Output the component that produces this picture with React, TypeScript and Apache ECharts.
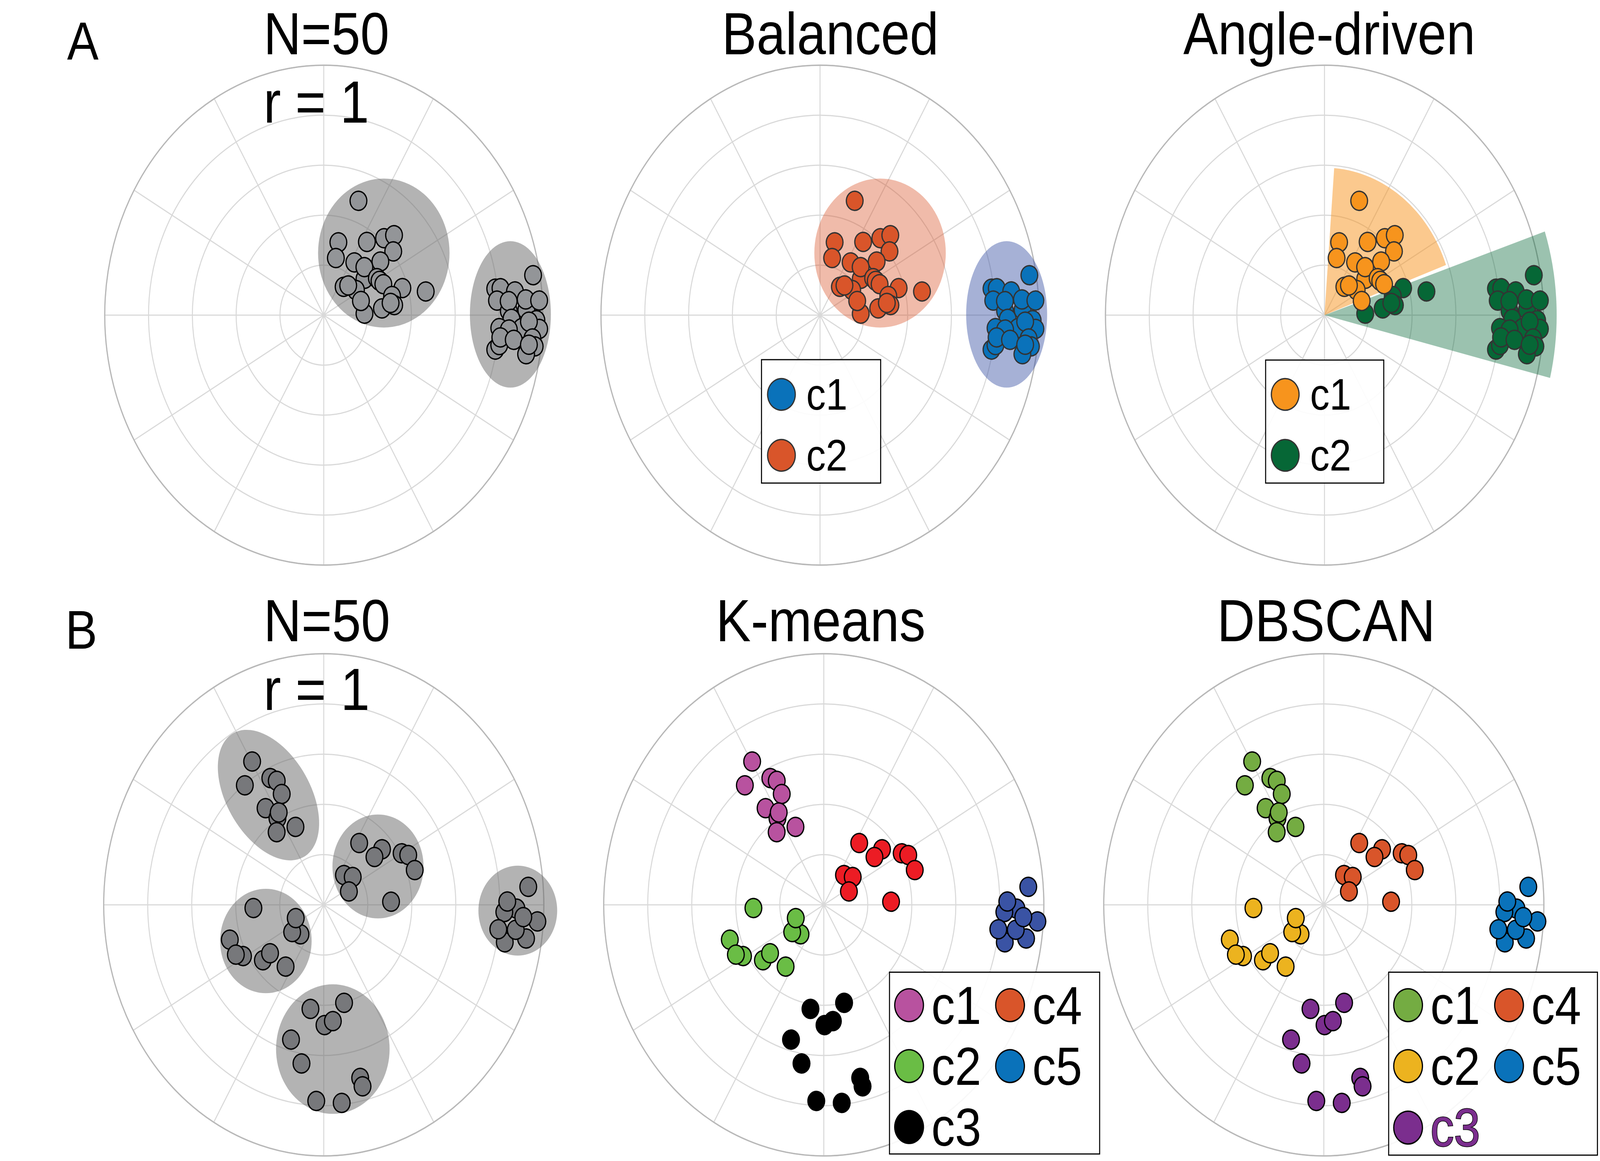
import React, { useEffect, useRef } from 'react';
import * as echarts from 'echarts';

const FONT = '"Liberation Sans", Arial, Helvetica, sans-serif';
const FIG_W = 4675;
const FIG_H = 2973;

// ---------------- DATA (polar: [radius, angle in degrees]) ----------------
// Row A (N=50, r=1): inner cluster (Balanced c2) and outer cluster (Balanced c1)
const aInnerPoints: [number, number][] = [
  [0.484, 70.9], [0.299, 77.1], [0.235, 76.4], [0.353, 56.1], [0.413, 48.2],
  [0.453, 44.9], [0.407, 38.8], [0.236, 38.0], [0.253, 56.5], [0.336, 39.7],
  [0.267, 46.0], [0.145, 51.3], [0.178, 34.3], [0.163, 46.8], [0.284, 31.4],
  [0.289, 28.3], [0.299, 24.5], [0.375, 16.8], [0.475, 11.5], [0.186, 1.8],
  [0.179, 18.5], [0.267, 5.8], [0.321, 13.8], [0.324, 7.1], [0.309, 9.1],
];
// Angle-driven cluster of each inner point (1 = c1, 2 = c2)
const aInnerAngleGroup: number[] = [
  1, 1, 1, 1, 1, 1, 1, 1, 1, 1, 1, 1, 1, 1, 1, 1, 1, 2, 2, 2, 1, 2, 2, 2, 2,
];
const aOuterPoints: [number, number][] = [
  [0.790, 7.7], [0.814, 7.6], [0.793, 4.2], [0.878, 6.2], [0.845, 1.1],
  [0.846, 3.8], [0.857, 359.0], [0.925, 1.3], [0.924, 3.9], [0.971, 358.8],
  [0.985, 3.4], [0.969, 9.5], [0.803, 356.3], [0.905, 356.7], [0.847, 356.1],
  [0.985, 356.8], [0.937, 358.4], [0.957, 354.4], [0.971, 352.6], [0.795, 350.0],
  [0.810, 351.5], [0.811, 353.7], [0.873, 353.5], [0.937, 350.4], [0.944, 352.8],
];

// Row B (N=50, r=1): five groups (K-means / DBSCAN labels c1..c5)
const bGroupC1: [number, number][] = [
  [0.657, 119.7], [0.596, 127.0], [0.560, 115.7], [0.538, 113.4], [0.481, 113.4],
  [0.467, 124.5], [0.404, 121.4], [0.421, 119.1], [0.360, 126.5], [0.336, 112.5],
];
const bGroupC2: [number, number][] = [
  [0.320, 182.3], [0.158, 228.0], [0.180, 217.1], [0.138, 202.6], [0.449, 198.0],
  [0.420, 209.1], [0.446, 206.4], [0.354, 218.6], [0.311, 218.3], [0.301, 234.8],
];
const bGroupC3: [number, number][] = [
  [0.419, 261.7], [0.401, 283.3], [0.479, 270.4], [0.465, 275.1], [0.557, 254.5],
  [0.640, 260.9], [0.709, 283.5], [0.744, 283.7], [0.782, 267.5], [0.793, 275.9],
];
const bGroupC4: [number, number][] = [
  [0.294, 56.8], [0.345, 39.9], [0.299, 39.6], [0.409, 30.1], [0.432, 27.3],
  [0.436, 18.5], [0.150, 52.3], [0.172, 40.1], [0.126, 25.0], [0.306, 2.3],
];
const bGroupC5: [number, number][] = [
  [0.932, 4.4], [0.876, 359.0], [0.821, 358.0], [0.834, 0.9], [0.836, 349.7],
  [0.929, 351.7], [0.973, 356.1], [0.799, 353.0], [0.878, 353.5], [0.908, 356.9],
];

// Shaded regions: [centre radius, centre angle, semi-axis x, semi-axis y, tilt deg]
const aRegions: number[][] = [
  [0.370, 42.2, 0.300, 0.298, 0],
  [0.852, 0.2, 0.185, 0.293, 0],
];
const bRegions: number[][] = [
  [0.504, 119.9, 0.295, 0.183, -52.9],
  [0.290, 31.8, 0.207, 0.207, 0],
  [0.300, 208.7, 0.208, 0.208, 0],
  [0.576, 274.1, 0.258, 0.258, 0],
  [0.882, 358.5, 0.179, 0.179, 0],
];
// Angle-driven sectors: [outer radius, start angle, end angle]
const angleSectors: number[][] = [
  [0.59, 19.9, 85.7],
  [1.06, 346.3, 18.4],
];

const panelTitles = ['Balanced', 'Angle-driven', 'K-means', 'DBSCAN'];
const legendNamesA = ['c1', 'c2'];
const legendNamesB1 = ['c1', 'c2', 'c3'];
const legendNamesB2 = ['c4', 'c5'];

// ---------------- STYLE / LAYOUT ----------------
const CENTERS: [number, number][] = [
  [946, 807], [2396, 807], [3870, 807],
  [946, 2317], [2407, 2317], [3868, 2317],
];
const RADII = [640, 640, 640, 643, 643, 643];

const GRAY_FILL = 'rgba(100,100,100,0.49)';
const SYM = 49;
const BW = 3.5;

function regionSeries(polarIndex: number, regions: number[][], fills: string[]) {
  return {
    type: 'custom', coordinateSystem: 'polar', polarIndex, silent: true, clip: false, z: 2,
    data: regions,
    renderItem: (params: any, api: any) => {
      const c = api.coord([api.value(0), api.value(1)]);
      const o = api.coord([0, 0]);
      const e = api.coord([1, 0]);
      const R = Math.hypot(e[0] - o[0], e[1] - o[1]);
      const rx = api.value(2) * R;
      const ry = api.value(3) * R;
      return {
        type: 'circle', x: c[0], y: c[1],
        rotation: (api.value(4) * Math.PI) / 180,
        scaleX: rx / ry, scaleY: 1,
        shape: { cx: 0, cy: 0, r: ry },
        style: { fill: fills[params.dataIndex % fills.length], stroke: null },
      };
    },
  };
}

function sectorSeries(polarIndex: number, sectors: number[][], fills: string[]) {
  return {
    type: 'custom', coordinateSystem: 'polar', polarIndex, silent: true, clip: false, z: 2,
    data: sectors,
    renderItem: (params: any, api: any) => {
      const o = api.coord([0, 0]);
      const e = api.coord([1, 0]);
      const R = Math.hypot(e[0] - o[0], e[1] - o[1]);
      const p1 = api.coord([1, api.value(1)]);
      const p2 = api.coord([1, api.value(2)]);
      const a1 = Math.atan2(p1[1] - o[1], p1[0] - o[0]);
      const a2 = Math.atan2(p2[1] - o[1], p2[0] - o[0]);
      return {
        type: 'sector',
        shape: { cx: o[0], cy: o[1], r0: 0, r: api.value(0) * R, startAngle: a2, endAngle: a1, clockwise: true },
        style: { fill: fills[params.dataIndex % fills.length], stroke: null },
      };
    },
  };
}

function scatter(polarIndex: number, name: string, data: [number, number][], color: string, border: string) {
  return {
    type: 'scatter', name, coordinateSystem: 'polar', polarIndex, silent: true, clip: false, z: 3,
    symbol: 'circle', symbolSize: SYM,
    itemStyle: { color, borderColor: border, borderWidth: BW, opacity: 1 },
    data,
  };
}

function legendItem(name: string, color: string, border: string, extraText?: any) {
  const item: any = { name, icon: 'circle', itemStyle: { color, borderColor: border, borderWidth: 3.5 } };
  if (extraText) item.textStyle = extraText;
  return item;
}

function buildOption(): any {
  const polar = CENTERS.map((c, i) => ({ center: c, radius: RADII[i] }));
  const angleAxis = CENTERS.map((_, i) => ({
    polarIndex: i, type: 'value', min: 0, max: 360, interval: 30, startAngle: 0, clockwise: false, z: 1,
    axisLine: { show: true, lineStyle: { color: '#b8b8b8', width: 3.5 } },
    axisTick: { show: false }, axisLabel: { show: false },
    splitLine: { show: true, lineStyle: { color: '#d9d9d9', width: 3 } },
  }));
  const radiusAxis = CENTERS.map((_, i) => ({
    polarIndex: i, type: 'value', min: 0, max: 1, interval: 0.2, z: 0,
    axisLine: { show: false }, axisTick: { show: false }, axisLabel: { show: false },
    splitLine: { show: true, lineStyle: { color: '#d9d9d9', width: 3 } },
  }));

  const innerC1 = aInnerPoints.filter((_, k) => aInnerAngleGroup[k] === 1);
  const innerC2 = aInnerPoints.filter((_, k) => aInnerAngleGroup[k] === 2);
  const allB = [...bGroupC1, ...bGroupC4, ...bGroupC2, ...bGroupC3, ...bGroupC5];

  const kColors: any = { c1: '#B8529F', c2: '#6ABD45', c3: '#000000', c4: '#EC1C24', c5: '#3A53A4' };
  const dColors: any = { c1: '#74AC42', c2: '#ECB31F', c3: '#7B2E8E', c4: '#D9552A', c5: '#0A72BA' };

  const series: any[] = [
    regionSeries(0, aRegions, [GRAY_FILL, GRAY_FILL]),
    scatter(0, 'A points', [...aInnerPoints, ...aOuterPoints], '#939598', '#000'),
    regionSeries(1, aRegions, ['rgba(217,85,42,0.40)', 'rgba(58,83,164,0.45)']),
    scatter(1, 'c2', aInnerPoints, '#D9552A', '#333'),
    scatter(1, 'c1', aOuterPoints, '#0A72BA', '#333'),
    sectorSeries(2, angleSectors, ['rgba(247,148,29,0.50)', 'rgba(6,103,54,0.40)']),
    scatter(2, 'c2', [...aOuterPoints, ...innerC2], '#066736', '#333'),
    scatter(2, 'c1', innerC1, '#F7941D', '#333'),
    regionSeries(3, bRegions, [GRAY_FILL]),
    scatter(3, 'B points', allB, '#77787B', '#000'),
    scatter(4, 'c1', bGroupC1, kColors.c1, '#000'),
    scatter(4, 'c2', bGroupC2, kColors.c2, '#000'),
    scatter(4, 'c3', bGroupC3, kColors.c3, '#000'),
    scatter(4, 'c4', bGroupC4, kColors.c4, '#000'),
    scatter(4, 'c5', bGroupC5, kColors.c5, '#000'),
    scatter(5, 'c1', bGroupC1, dColors.c1, '#000'),
    scatter(5, 'c2', bGroupC2, dColors.c2, '#000'),
    scatter(5, 'c3', bGroupC3, dColors.c3, '#000'),
    scatter(5, 'c4', bGroupC4, dColors.c4, '#000'),
    scatter(5, 'c5', bGroupC5, dColors.c5, '#000'),
  ];

  const legA = (left: number, top: number, padding: number[], cols: string[]) => ({
    orient: 'vertical', left, top, height: 800, padding,
    itemWidth: 135, itemHeight: 81, itemGap: 42,
    selectedMode: false,
    borderColor: '#000', borderWidth: 3, borderRadius: 0,
    backgroundColor: 'rgba(255,255,255,0.9)',
    textStyle: { fontSize: 114, fontFamily: FONT, color: '#000' },
    data: legendNamesA.map((n, k) => legendItem(n, cols[k], '#333')),
    z: 6,
  });

  const B_FONT = 138;
  const legB = (left: number, top: number, padding: number[], names: string[], cols: any, boxed: boolean, extra?: any) => ({
    orient: 'vertical', left, top, height: 800, padding,
    itemWidth: 120, itemHeight: 84, itemGap: 18,
    selectedMode: false,
    borderColor: boxed ? '#000' : 'transparent',
    borderWidth: boxed ? 3 : 0, borderRadius: 0,
    backgroundColor: boxed ? 'rgba(255,255,255,0.9)' : 'transparent',
    textStyle: { fontSize: B_FONT, fontFamily: FONT, color: '#000' },
    data: names.map((n) => legendItem(n, cols[n], '#000', extra && extra[n])),
    z: boxed ? 6 : 7,
  });

  const kLegendCols = { c1: '#B8529F', c2: '#6ABD45', c3: '#000000', c4: '#D9552A', c5: '#0A72BA' };
  const c3Text = { c3: { color: '#7B2E8E', textBorderColor: '#000', textBorderWidth: 3, fontSize: B_FONT, fontFamily: FONT } };

  const legend = [
    legA(2225, 921, [32, 97, 14, 16], ['#0A72BA', '#D9552A']),
    legA(3698, 922, [31, 95, 14, 15], ['#F7941D', '#066736']),
    legB(2599, 2489.5, [15.5, 346, 0, 13.5], legendNamesB1, kLegendCols, true),
    legB(2907.5, 2505, [0, 0, 0, 0], legendNamesB2, kLegendCols, false),
    legB(4057.5, 2489.5, [15.5, 341, 0, 13], legendNamesB1, dColors, true, c3Text),
    legB(4365.5, 2505, [0, 0, 0, 0], legendNamesB2, dColors, false),
  ];

  const txt = (text: string, x: number, y: number, fontSize: number, align: string) => ({
    type: 'text', x, y, z: 10, silent: true,
    style: { text, fontSize, fontFamily: FONT, fill: '#000', align, verticalAlign: 'middle' },
  });

  const graphic = [
    txt('A', 196, 105, 138, 'left'),
    txt('N=50', 770, 86, 152, 'left'),
    txt('r = 1', 770, 261, 152, 'left'),
    txt(panelTitles[0], 2426, 86, 152, 'center'),
    txt(panelTitles[1], 3884, 86, 152, 'center'),
    txt('B', 191, 1612.5, 140, 'left'),
    txt('N=50', 770, 1589, 153, 'left'),
    txt('r = 1', 770, 1765, 153, 'left'),
    txt(panelTitles[2], 2398, 1589, 153, 'center'),
    txt(panelTitles[3], 3875, 1589, 153, 'center'),
  ];

  return { animation: false, backgroundColor: '#ffffff', polar, angleAxis, radiusAxis, legend, graphic, series };
}

export default function App() {
  const ref = useRef<HTMLDivElement>(null);
  // The browser viewport may be narrower than the figure: fit the figure into it.
  const vw = typeof window !== 'undefined' ? window.innerWidth : FIG_W;
  const vh = typeof window !== 'undefined' ? window.innerHeight : FIG_H;
  const sx = Math.min(1, vw / FIG_W);
  const sy = Math.min(1, vh / FIG_H);

  useEffect(() => {
    if (!ref.current) return;
    const chart = echarts.init(ref.current, undefined, { renderer: 'svg' });
    chart.setOption(buildOption());
    return () => chart.dispose();
  }, []);

  return (
    <div style={{ position: 'fixed', left: 0, top: 0, width: '100vw', height: '100vh', overflow: 'hidden', background: '#fff' }}>
      <div
        ref={ref}
        style={{ width: FIG_W, height: FIG_H, transform: `scale(${sx}, ${sy})`, transformOrigin: '0 0' }}
      />
    </div>
  );
}
